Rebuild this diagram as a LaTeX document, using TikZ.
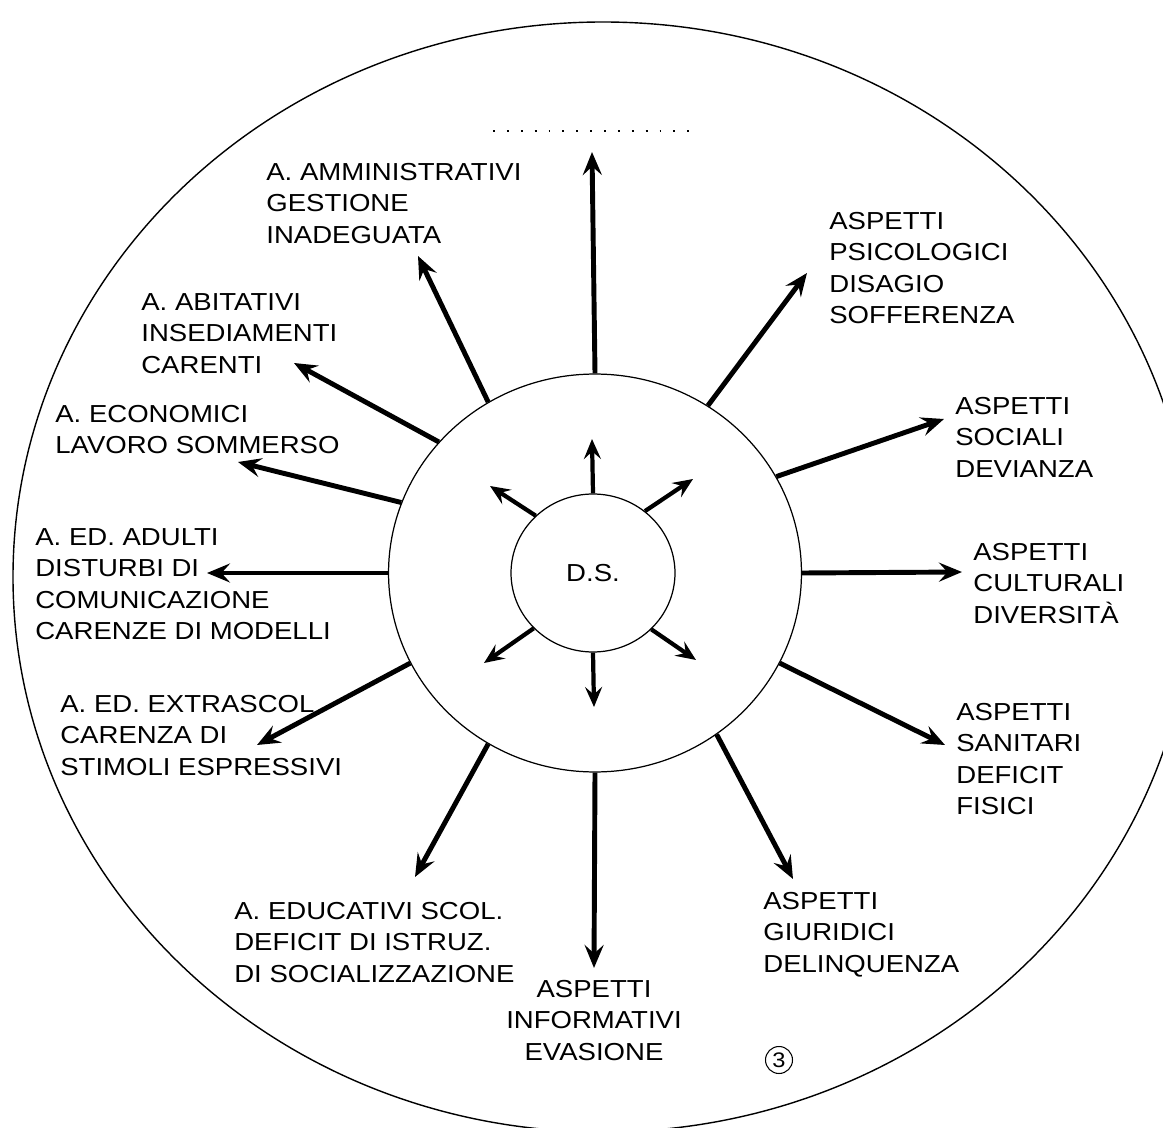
\documentclass[tikz,border=0pt]{standalone}
\usepackage{fontspec}
\setmainfont{Liberation Sans}[FakeStretch=1.12]
\usetikzlibrary{arrows.meta,shapes.geometric}
\tikzset{
  outerring/.style={draw,line width=0.8pt},
  ringnode/.style={draw,ellipse,line width=0.7pt,inner sep=0pt},
  aspect/.style={anchor=north west,align=left,inner sep=0pt,font=\fontsize{14}{17.9}\selectfont},
  spoke/.style={-{Stealth[length=4.6mm,width=3.8mm,inset=1.7mm]},line width=2.8pt},
  ray/.style={-{Stealth[length=4mm,width=3.4mm,inset=1.5mm]},line width=2.4pt}
}

\begin{document}
\begin{tikzpicture}[x=0.02cm,y=-0.02cm]
  \useasboundingbox (0,0) rectangle (1163,1128);
  \begin{scope}
    \clip (0,0) rectangle (1163,1128);
    \draw[outerring] (603,577) ellipse [x radius=590,y radius=555];
  \end{scope}

  \node[ringnode,minimum width=8.26cm,minimum height=7.96cm] (ring) at (595,573) {};
  \node[ringnode,minimum width=3.28cm,minimum height=3.16cm,font=\fontsize{14}{17}\selectfont] (core) at (593,573) {D.S.};

  \coordinate (rUp) at (592,439);
  \coordinate (rUpRight) at (693,479);
  \coordinate (rUpLeft) at (490,486);
  \coordinate (rDownLeft) at (484,663);
  \coordinate (rDown) at (594,707);
  \coordinate (rDownRight) at (696,660);
  \draw[ray] (core.90) -- (rUp);
  \draw[ray] (core.50) -- (rUpRight);
  \draw[ray] (core.135) -- (rUpLeft);
  \draw[ray] (core.223) -- (rDownLeft);
  \draw[ray] (core.270) -- (rDown);
  \draw[ray] (core.316) -- (rDownRight);

  \coordinate (dotsL) at (493,131);
  \coordinate (dotsR) at (692,131);
  \draw[line width=1.1pt,dash pattern=on 1.1pt off 6.8pt] (dotsL) -- (dotsR);

  \node[aspect] (amm) at (266,163) {A. AMMINISTRATIVI\\GESTIONE\\INADEGUATA};
  \node[aspect] (abit) at (141,293) {A. ABITATIVI\\INSEDIAMENTI\\CARENTI};
  \node[aspect] (econ) at (55,405) {A. ECONOMICI\\LAVORO SOMMERSO};
  \node[aspect] (adul) at (35,528) {A. ED. ADULTI\\DISTURBI DI\\COMUNICAZIONE\\CARENZE DI MODELLI};
  \node[aspect] (extr) at (60,695) {A. ED. EXTRASCOL\\CARENZA DI\\STIMOLI ESPRESSIVI};
  \node[aspect] (scol) at (234,902) {A. EDUCATIVI SCOL.\\DEFICIT DI ISTRUZ.\\DI SOCIALIZZAZIONE};
  \node[aspect,anchor=north,align=center] (info) at (594,980) {ASPETTI\\INFORMATIVI\\EVASIONE};
  \node[aspect] (giur) at (763,892) {ASPETTI\\GIURIDICI\\DELINQUENZA};
  \node[aspect] (sani) at (956,703) {ASPETTI\\SANITARI\\DEFICIT\\FISICI};
  \node[aspect] (cult) at (973,543) {ASPETTI\\CULTURALI\\DIVERSITÀ};
  \node[aspect] (soci) at (955,397) {ASPETTI\\SOCIALI\\DEVIANZA};
  \node[aspect] (psic) at (829,212) {ASPETTI\\PSICOLOGICI\\DISAGIO\\SOFFERENZA};
  \node[draw,circle,inner sep=0.5pt,minimum size=0.54cm,line width=0.6pt,font=\fontsize{12}{12}\selectfont] (pagemark) at (779,1060) {3};

  \coordinate (tTop) at (592,152);
  \coordinate (tAmm) at (418,256);
  \coordinate (tAbit) at (294,363);
  \coordinate (tEcon) at (238,462);
  \coordinate (tAdul) at (207,573);
  \coordinate (tExtr) at (257,745);
  \coordinate (tScol) at (415,877);
  \coordinate (tInfo) at (594,968);
  \coordinate (tGiur) at (793,879);
  \coordinate (tSani) at (945,745);
  \coordinate (tCult) at (962,572);
  \coordinate (tSoci) at (944,419);
  \coordinate (tPsic) at (807,273);
  \draw[spoke] (ring.90) -- (tTop);
  \draw[spoke] (ring.122) -- (tAmm);
  \draw[spoke] (ring.140) -- (tAbit);
  \draw[spoke] (ring.160) -- (tEcon);
  \draw[spoke] (ring.180) -- (tAdul);
  \draw[spoke] (ring.206) -- (tExtr);
  \draw[spoke] (ring.238) -- (tScol);
  \draw[spoke] (ring.270) -- (tInfo);
  \draw[spoke] (ring.307) -- (tGiur);
  \draw[spoke] (ring.334) -- (tSani);
  \draw[spoke] (ring.0) -- (tCult);
  \draw[spoke] (ring.28) -- (tSoci);
  \draw[spoke] (ring.56) -- (tPsic);
\end{tikzpicture}
\end{document}
